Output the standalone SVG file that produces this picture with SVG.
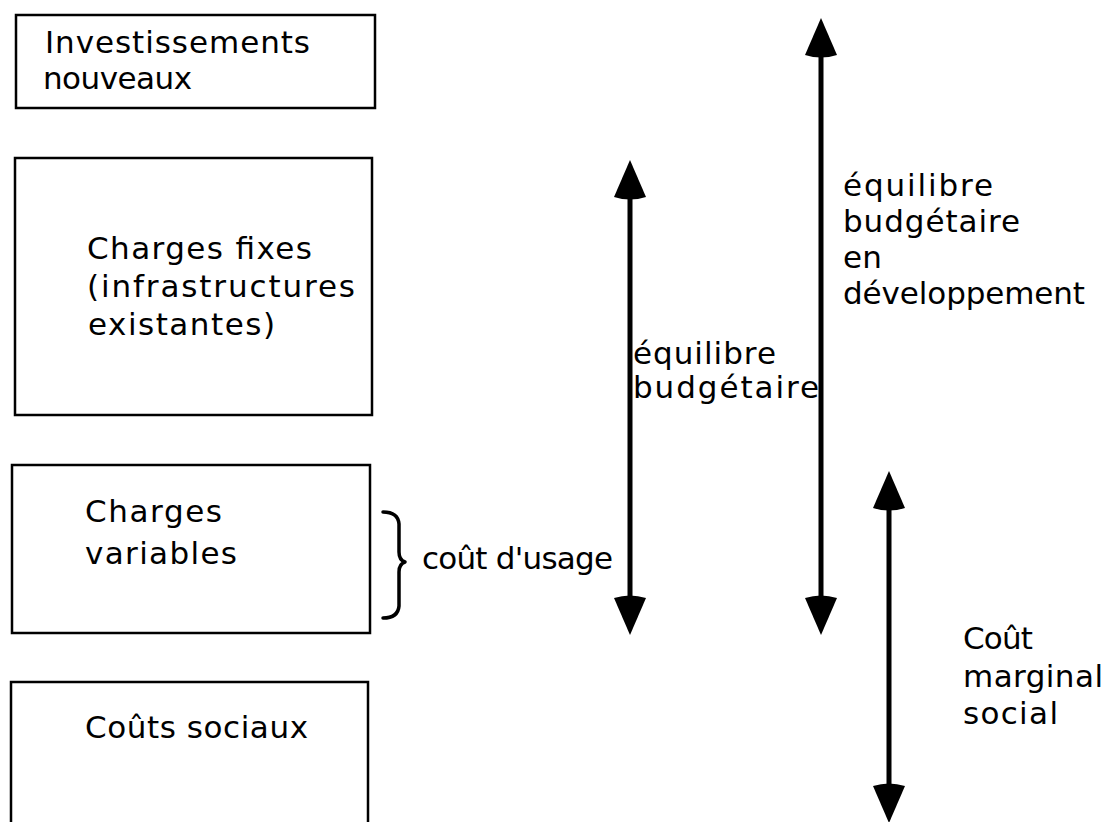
<svg xmlns="http://www.w3.org/2000/svg" width="1108" height="822" viewBox="0 0 1108 822">
  <style>
    .box { fill: #ffffff; stroke: #000000; stroke-width: 2.5; }
    .lbl { font-family: "DejaVu Sans", "Liberation Sans", sans-serif; font-size: 31px; fill: #000000; }
    .shaft { stroke: #000000; stroke-width: 5; fill: none; }
    .brace { stroke: #000000; stroke-width: 3.5; fill: none; stroke-linecap: round; stroke-linejoin: round; }
  </style>
  <defs>
    <!-- solid head with slightly bulging base, tip pointing along +x -->
    <marker id="head" markerUnits="userSpaceOnUse" markerWidth="44" markerHeight="36" viewBox="-6 0 44 32" refX="0" refY="16" orient="auto-start-reverse" overflow="visible">
      <path d="M0,0 L37,16 L0,32 Q-5,16 0,0 Z" fill="#000000"/>
    </marker>
  </defs>

  <rect width="1108" height="822" fill="#ffffff"/>

  <g id="investissements">
    <rect class="box" x="16" y="15" width="359" height="93"/>
    <text class="lbl" x="45" y="53" textLength="265" lengthAdjust="spacing">Investissements</text>
    <text class="lbl" x="43" y="89" textLength="149" lengthAdjust="spacing">nouveaux</text>
  </g>

  <g id="charges-fixes">
    <rect class="box" x="15" y="158" width="357" height="257"/>
    <text class="lbl" x="87" y="259" textLength="225" lengthAdjust="spacing">Charges fixes</text>
    <text class="lbl" x="87" y="297" textLength="268" lengthAdjust="spacing">(infrastructures</text>
    <text class="lbl" x="88" y="335" textLength="187" lengthAdjust="spacing">existantes)</text>
  </g>

  <g id="charges-variables">
    <rect class="box" x="12" y="465" width="358" height="168"/>
    <text class="lbl" x="85" y="522" textLength="137" lengthAdjust="spacing">Charges</text>
    <text class="lbl" x="85" y="564" textLength="152" lengthAdjust="spacing">variables</text>
  </g>

  <g id="couts-sociaux">
    <rect class="box" x="11" y="682" width="357" height="160"/>
    <text class="lbl" x="85" y="738" textLength="223" lengthAdjust="spacing">Coûts sociaux</text>
  </g>

  <g id="cout-usage">
    <path class="brace" d="M383,512 Q398,512 399,524 L399,552 Q399,560 405,562 Q399,564 399,572 L399,606 Q398,618 383,618"/>
    <text class="lbl" x="422" y="569" textLength="191" lengthAdjust="spacing">coût d'usage</text>
  </g>

  <g id="connectors">
    <line class="shaft" x1="630" y1="197" x2="630" y2="598" marker-start="url(#head)" marker-end="url(#head)"/>
    <line class="shaft" x1="821" y1="55" x2="821" y2="598" marker-start="url(#head)" marker-end="url(#head)"/>
    <line class="shaft" x1="889" y1="508" x2="889" y2="786" marker-start="url(#head)" marker-end="url(#head)"/>
  </g>

  <g id="equilibre-budgetaire">
    <text class="lbl" x="633" y="364" textLength="143" lengthAdjust="spacing">équilibre</text>
    <text class="lbl" x="633" y="398" textLength="186" lengthAdjust="spacing">budgétaire</text>
  </g>

  <g id="equilibre-developpement">
    <text class="lbl" x="843" y="196" textLength="150" lengthAdjust="spacing">équilibre</text>
    <text class="lbl" x="843" y="232" textLength="177" lengthAdjust="spacing">budgétaire</text>
    <text class="lbl" x="843" y="268" textLength="39" lengthAdjust="spacing">en</text>
    <text class="lbl" x="843" y="304" textLength="242" lengthAdjust="spacing">développement</text>
  </g>

  <g id="cout-marginal">
    <text class="lbl" x="963" y="649" textLength="70" lengthAdjust="spacing">Coût</text>
    <text class="lbl" x="963" y="687" textLength="140" lengthAdjust="spacing">marginal</text>
    <text class="lbl" x="963" y="724" textLength="95" lengthAdjust="spacing">social</text>
  </g>
</svg>
